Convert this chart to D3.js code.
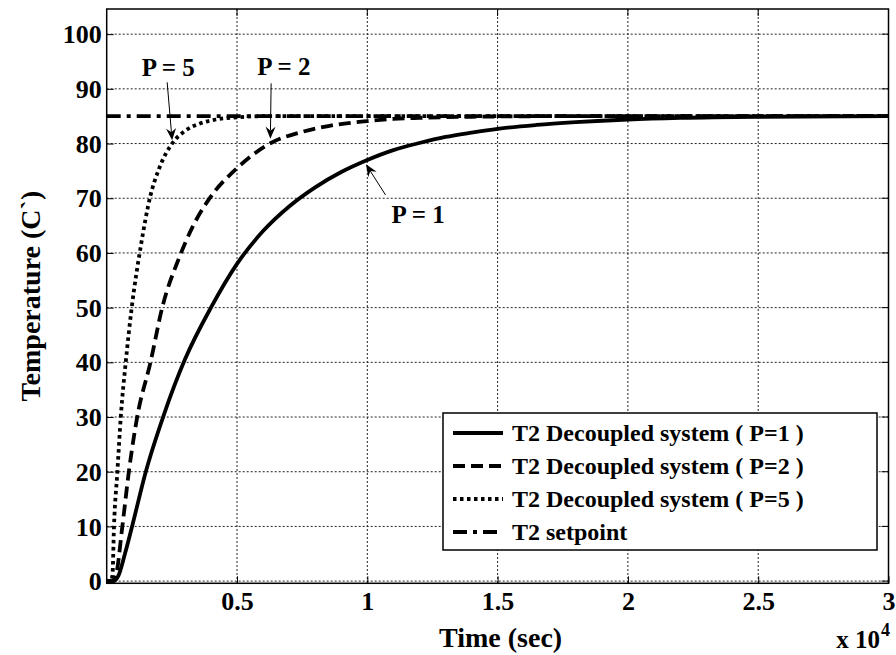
<!DOCTYPE html>
<html>
<head>
<meta charset="utf-8">
<script src="https://cdn.jsdelivr.net/npm/d3@7"></script>
<style>
  html, body { margin: 0; padding: 0; background: #fff; }
  svg { display: block; }
</style>
</head>
<body>
<div id="chart"></div>
<script>
// time samples (sec) and temperatures
const timeP1 = [0, 250, 450, 700, 1000, 1500, 2200, 3000, 4000, 5000, 6000, 7000, 8000, 9000, 10000, 11000, 12000, 13000, 14000, 15000, 16500, 18000, 20000, 22000, 25000, 30000];
const tempP1 = [0, 0, 1, 5, 10.5, 20, 30.5, 40.5, 50, 58, 64, 68.5, 72, 74.8, 77, 78.8, 80.1, 81.2, 82, 82.7, 83.4, 83.9, 84.4, 84.7, 84.9, 85];

const timeP2 = [0, 200, 350, 600, 850, 1170, 1680, 2130, 2770, 3300, 3920, 5000, 6340, 7400, 8500, 10000, 11000, 12000, 14000, 17000, 20000, 30000];
const tempP2 = [0, 0, 1, 10, 20, 30, 40, 50, 59, 64.8, 69.8, 75.5, 80.2, 82, 83.2, 84.1, 84.5, 84.7, 84.9, 85, 85, 85];

const timeP5 = [0, 150, 220, 280, 410, 540, 730, 960, 1300, 1680, 2000, 2510, 3000, 3600, 4200, 5000, 6000, 8000, 30000];
const tempP5 = [0, 0, 1, 10, 20, 30, 40, 50, 61, 70.5, 75.3, 80, 82.3, 83.7, 84.4, 84.8, 85, 85, 85];

const timeSet = [0, 30000];
const tempSet = [85, 85];

const xTicks = [5000, 10000, 15000, 20000, 25000, 30000];
const xTickLabels = ["0.5", "1", "1.5", "2", "2.5", "3"];
const yTicks = [0, 10, 20, 30, 40, 50, 60, 70, 80, 90, 100];

const seriesNames = ["T2 Decoupled system ( P=1 )", "T2 Decoupled system ( P=2 )", "T2 Decoupled system ( P=5 )", "T2 setpoint"];

// annotation labels: text, label anchor (t, T), arrow tail (t, T), arrow tip (t, T)
const noteText = ["P = 5", "P = 2", "P = 1"];
const noteLabel = [[2360, 92.3], [6800, 92.5], [11950, 65.5]];
const noteTail = [[2320, 91.2], [6310, 91.0], [10700, 70.6]];
const noteTip = [[2510, 80.6], [6280, 80.9], [9950, 76.2]];

const width = 896, height = 655;
const m = {left: 106.7, right: 888.5, top: 9, bottom: 583.3};
const font = "'Liberation Serif', 'Times New Roman', serif";

const x = d3.scaleLinear().domain([0, 30000]).range([m.left, m.right]);
const y = d3.scaleLinear().domain([-0.4, 104.6]).range([m.bottom, m.top]);

const svg = d3.select("#chart").append("svg")
    .attr("width", width)
    .attr("height", height)
    .attr("font-family", font)
    .attr("font-weight", "bold");

svg.append("rect").attr("width", width).attr("height", height).attr("fill", "#fff");

// grid
const grid = svg.append("g")
    .attr("stroke", "#222")
    .attr("stroke-width", 1)
    .attr("stroke-dasharray", "2,2");
grid.selectAll(".gx").data(xTicks.slice(0, -1)).join("line")
    .attr("x1", d => x(d)).attr("x2", d => x(d))
    .attr("y1", m.top).attr("y2", m.bottom);
grid.selectAll(".gy").data(yTicks).join("line")
    .attr("y1", d => y(d)).attr("y2", d => y(d))
    .attr("x1", m.left).attr("x2", m.right);

// curves
const series = [
  {t: timeP1, v: tempP1, dash: null},
  {t: timeP2, v: tempP2, dash: "12,6"},
  {t: timeP5, v: tempP5, dash: "3.5,3.5"},
  {t: timeSet, v: tempSet, dash: "14,6,4,6"}
];

const line = d3.line()
    .x(d => x(d[0]))
    .y(d => y(d[1]))
    .curve(d3.curveMonotoneX);

svg.append("g").selectAll("path")
  .data(series)
  .join("path")
    .attr("d", s => line(s.t.map((t, i) => [t, s.v[i]])))
    .attr("fill", "none")
    .attr("stroke", "#000")
    .attr("stroke-width", 3.8)
    .attr("stroke-dasharray", s => s.dash);

// axes box
const axes = svg.append("g");
axes.append("rect")
    .attr("x", m.left).attr("y", m.top)
    .attr("width", m.right - m.left).attr("height", m.bottom - m.top)
    .attr("fill", "none").attr("stroke", "#000").attr("stroke-width", 1.5);

const xAxis = d3.axisBottom(x).tickValues(xTicks).tickFormat((d, i) => xTickLabels[i]).tickSizeInner(-7).tickSizeOuter(0).tickPadding(8);
const gx = axes.append("g").attr("transform", `translate(0,${m.bottom})`).call(xAxis);
gx.select(".domain").remove();
gx.selectAll("text").attr("font-size", 26).attr("font-family", font).attr("font-weight", "bold").attr("fill", "#000");

const yAxis = d3.axisLeft(y).tickValues(yTicks).tickSizeInner(-7).tickSizeOuter(0).tickPadding(5);
const gy = axes.append("g").attr("transform", `translate(${m.left},0)`).call(yAxis);
gy.select(".domain").remove();
gy.selectAll("text").attr("font-size", 26).attr("font-family", font).attr("font-weight", "bold").attr("fill", "#000").attr("dy", "0.33em");

// right-side and top ticks
axes.append("g").selectAll("line").data(yTicks).join("line")
    .attr("x1", m.right).attr("x2", m.right - 7)
    .attr("y1", d => y(d)).attr("y2", d => y(d))
    .attr("stroke", "#000");
axes.append("g").selectAll("line").data(xTicks).join("line")
    .attr("y1", m.top).attr("y2", m.top + 7)
    .attr("x1", d => x(d)).attr("x2", d => x(d))
    .attr("stroke", "#000");

// axis labels
svg.append("text")
    .attr("x", (m.left + m.right) / 2 + 3).attr("y", 647)
    .attr("text-anchor", "middle").attr("font-size", 28)
    .text("Time (sec)");

svg.append("text")
    .attr("transform", `translate(40,${(m.top + m.bottom) / 2}) rotate(-90)`)
    .attr("text-anchor", "middle").attr("font-size", 28)
    .text("Temperature (C`)");

svg.append("text")
    .attr("x", 880).attr("y", 648)
    .attr("text-anchor", "end").attr("font-size", 25)
    .text("x 10");
svg.append("text")
    .attr("x", 881).attr("y", 636)
    .attr("font-size", 18)
    .text("4");

// annotations
const notes = svg.append("g");
notes.selectAll("text").data(noteText).join("text")
    .attr("x", (d, i) => x(noteLabel[i][0]))
    .attr("y", (d, i) => y(noteLabel[i][1]))
    .attr("text-anchor", "middle")
    .attr("font-size", 25)
    .text(d => d);

noteText.forEach((d, i) => {
  const x0 = x(noteTail[i][0]), y0 = y(noteTail[i][1]);
  const x1 = x(noteTip[i][0]), y1 = y(noteTip[i][1]);
  const ang = Math.atan2(y1 - y0, x1 - x0);
  const L = 12, W = 5, back = 8;
  const ux = Math.cos(ang), uy = Math.sin(ang);
  const px = -uy, py = ux;
  notes.append("line")
      .attr("x1", x0).attr("y1", y0)
      .attr("x2", x1 - ux * back).attr("y2", y1 - uy * back)
      .attr("stroke", "#000").attr("stroke-width", 1);
  const pts = [
    [x1, y1],
    [x1 - ux * L + px * W, y1 - uy * L + py * W],
    [x1 - ux * back, y1 - uy * back],
    [x1 - ux * L - px * W, y1 - uy * L - py * W]
  ];
  notes.append("path")
      .attr("d", "M" + pts.map(p => p.join(",")).join("L") + "Z")
      .attr("fill", "#000");
});

// legend
const lg = svg.append("g");
lg.append("rect")
    .attr("x", 443).attr("y", 413)
    .attr("width", 434).attr("height", 137)
    .attr("fill", "#fff").attr("stroke", "#000").attr("stroke-width", 1.5);

const rowY = d3.scalePoint().domain(d3.range(seriesNames.length)).range([433, 532]);
const rows = lg.selectAll(".row").data(seriesNames).join("g")
    .attr("transform", (d, i) => `translate(0,${rowY(i)})`);
rows.append("line")
    .attr("x1", 453).attr("x2", 503)
    .attr("stroke", "#000").attr("stroke-width", 3.8)
    .attr("stroke-dasharray", (d, i) => series[i].dash);
rows.append("text")
    .attr("x", 512).attr("dy", "0.33em")
    .attr("font-size", 24)
    .text(d => d);
</script>
</body>
</html>
